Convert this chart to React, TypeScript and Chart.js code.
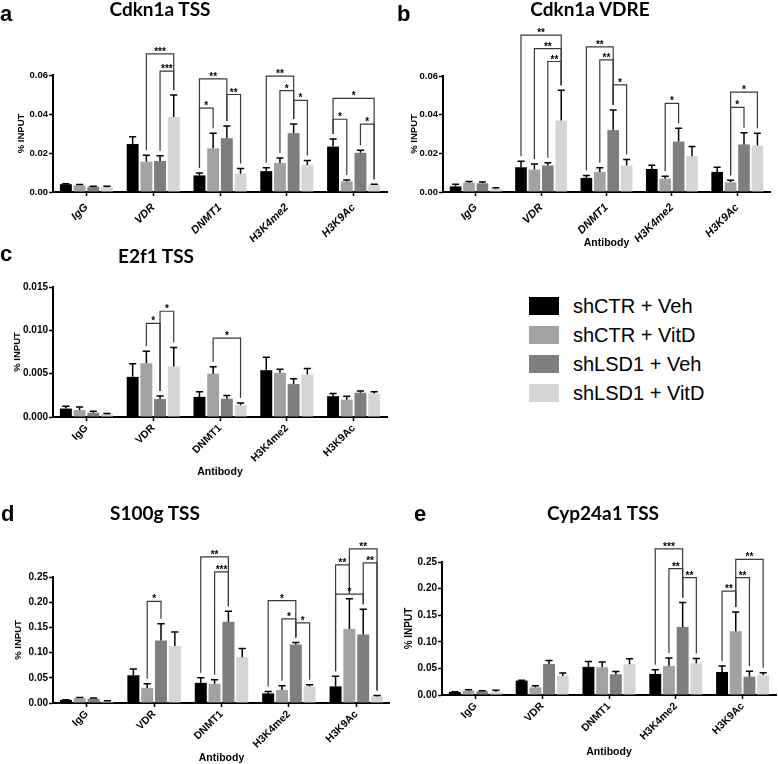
import React, { useEffect, useRef } from "react";
import { Chart, registerables } from "chart.js";

Chart.register(...registerables);

// ---------- shared categories / series ----------
const categories = ["IgG", "VDR", "DNMT1", "H3K4me2", "H3K9Ac"];
const groups = ["shCTR + Veh", "shCTR + VitD", "shLSD1 + Veh", "shLSD1 + VitD"];
const groupColors = ["#000000", "#a2a2a2", "#7e7e7e", "#d5d5d5"];
const xAxisTitle = "Antibody";
const yAxisTitle = "% INPUT";

// ---------- a: Cdkn1a TSS ----------
const cdkn1aTssMeans = [
  [0.004, 0.0246, 0.0085, 0.0107, 0.0233],
  [0.0034, 0.0156, 0.0224, 0.0149, 0.0054],
  [0.0027, 0.0159, 0.0276, 0.0302, 0.0201],
  [0.0025, 0.0385, 0.0094, 0.0139, 0.0037],
];
const cdkn1aTssErrors = [
  [0.0002, 0.0037, 0.0013, 0.0018, 0.0039],
  [0.0005, 0.0032, 0.0077, 0.0025, 0.0007],
  [0.0002, 0.0027, 0.0062, 0.0047, 0.0013],
  [0.0004, 0.0112, 0.0027, 0.0022, 0.0003],
];
// [category, series from, series to, height, label]
const cdkn1aTssSig: [number, number, number, number, string][] = [
  [1, 1, 3, 0.0708, "***"],
  [1, 2, 3, 0.062, "***"],
  [2, 0, 2, 0.058, "**"],
  [2, 0, 1, 0.043, "*"],
  [2, 2, 3, 0.05, "**"],
  [3, 0, 2, 0.0594, "**"],
  [3, 1, 2, 0.052, "*"],
  [3, 2, 3, 0.047, "*"],
  [4, 0, 3, 0.048, "*"],
  [4, 0, 1, 0.0373, "*"],
  [4, 2, 3, 0.0348, "*"],
];
const cdkn1aTssTicks = [0, 0.02, 0.04, 0.06];

// ---------- b: Cdkn1a VDRE ----------
const cdkn1aVdreMeans = [
  [0.0029, 0.0128, 0.0073, 0.0119, 0.0104],
  [0.0048, 0.0116, 0.0104, 0.0069, 0.005],
  [0.0045, 0.0137, 0.032, 0.0261, 0.0246],
  [0.0017, 0.037, 0.0137, 0.0185, 0.024],
];
const cdkn1aVdreErrors = [
  [0.0011, 0.0031, 0.0012, 0.0019, 0.0024],
  [0.0006, 0.0029, 0.0021, 0.0012, 0.0011],
  [0.0007, 0.0014, 0.0104, 0.0069, 0.006],
  [0.0005, 0.0156, 0.0031, 0.005, 0.0064],
];
const cdkn1aVdreSig: [number, number, number, number, string][] = [
  [1, 0, 3, 0.0811, "**"],
  [1, 1, 3, 0.0742, "**"],
  [1, 2, 3, 0.0675, "**"],
  [2, 0, 2, 0.0751, "**"],
  [2, 1, 2, 0.0683, "**"],
  [2, 2, 3, 0.0554, "*"],
  [3, 1, 2, 0.0458, "*"],
  [4, 1, 3, 0.0517, "*"],
  [4, 1, 2, 0.0438, "*"],
];
const cdkn1aVdreTicks = [0, 0.02, 0.04, 0.06];

// ---------- c: E2f1 TSS ----------
const e2f1TssMeans = [
  [0.00097, 0.00463, 0.00232, 0.0054, 0.0024],
  [0.00081, 0.0062, 0.005, 0.0051, 0.002],
  [0.0005, 0.00208, 0.00212, 0.0038, 0.0028],
  [0.00035, 0.00583, 0.00135, 0.0049, 0.0027],
];
const e2f1TssErrors = [
  [0.00027, 0.0015, 0.0006, 0.0015, 0.0003],
  [0.00035, 0.0014, 0.0008, 0.0004, 0.0004],
  [0.00016, 0.00035, 0.00035, 0.0006, 0.0002],
  [0.00005, 0.0022, 0.00027, 0.0007, 0.0002],
];
const e2f1TssSig: [number, number, number, number, string][] = [
  [1, 1, 2, 0.0108, "*"],
  [1, 2, 3, 0.0122, "*"],
  [2, 1, 3, 0.0091, "*"],
];
const e2f1TssTicks = [0, 0.005, 0.01, 0.015];

// ---------- d: S100g TSS ----------
const s100gTssMeans = [
  [0.006, 0.055, 0.04, 0.019, 0.033],
  [0.0093, 0.03, 0.038, 0.026, 0.147],
  [0.0086, 0.124, 0.161, 0.116, 0.136],
  [0.0033, 0.113, 0.091, 0.033, 0.013],
];
const s100gTssErrors = [
  [0.0006, 0.0125, 0.01, 0.004, 0.02],
  [0.0017, 0.008, 0.008, 0.008, 0.06],
  [0.0013, 0.033, 0.021, 0.004, 0.05],
  [0.0013, 0.028, 0.017, 0.003, 0.002],
];
const s100gTssSig: [number, number, number, number, string][] = [
  [1, 1, 2, 0.2017, "*"],
  [2, 0, 2, 0.29, "**"],
  [2, 1, 2, 0.26, "***"],
  [3, 0, 2, 0.203, "*"],
  [3, 1, 2, 0.167, "*"],
  [3, 2, 3, 0.159, "*"],
  [4, 0, 1, 0.274, "**"],
  [4, 1, 3, 0.306, "**"],
  [4, 0, 2, 0.216, "*"],
  [4, 2, 3, 0.278, "**"],
];
const s100gTssTicks = [0, 0.05, 0.1, 0.15, 0.2, 0.25];

// ---------- e: Cyp24a1 TSS ----------
const cyp24a1TssMeans = [
  [0.0057, 0.027, 0.0528, 0.0396, 0.0433],
  [0.0082, 0.0144, 0.052, 0.0546, 0.12],
  [0.0069, 0.0584, 0.039, 0.128, 0.0345],
  [0.0063, 0.0358, 0.058, 0.0597, 0.0377],
];
const cyp24a1TssErrors = [
  [0.0006, 0.0006, 0.01, 0.008, 0.011],
  [0.0018, 0.0032, 0.01, 0.015, 0.036],
  [0.0013, 0.0063, 0.005, 0.046, 0.01],
  [0.0025, 0.0057, 0.01, 0.009, 0.004],
];
const cyp24a1TssSig: [number, number, number, number, string][] = [
  [3, 0, 2, 0.2745, "***"],
  [3, 1, 2, 0.2374, "**"],
  [3, 2, 3, 0.2205, "**"],
  [4, 0, 1, 0.1954, "**"],
  [4, 1, 3, 0.255, "**"],
  [4, 1, 2, 0.2205, "**"],
];
const cyp24a1TssTicks = [0, 0.05, 0.1, 0.15, 0.2, 0.25];

const FONT = "'Liberation Sans', Arial, sans-serif";

type PanelSpec = {
  means: number[][];
  errors: number[][];
  sig: [number, number, number, number, string][];
  ticks: number[];
  decimals: number;
  left: number;
  top: number;
  width: number;
  height: number;
  pad: { left: number; top: number; right: number; bottom: number };
  yWidth: number;
  xHeight: number;
  italic: boolean;
  xTitle: boolean;
  xTitleOffset: number;
  labelPad: number;
  tickSize: number;
  yTitleSize: number;
  labelSize: number;
};

const panels: PanelSpec[] = [
  {
    means: cdkn1aTssMeans, errors: cdkn1aTssErrors, sig: cdkn1aTssSig, ticks: cdkn1aTssTicks, decimals: 2,
    left: 0, top: 0, width: 390, height: 242,
    pad: { left: 16, top: 75, right: 3, bottom: 0 }, yWidth: 37, xHeight: 50,
    italic: true, xTitle: false, xTitleOffset: 0, labelPad: 5, tickSize: 9.5, yTitleSize: 9.5, labelSize: 11,
  },
  {
    means: cdkn1aVdreMeans, errors: cdkn1aVdreErrors, sig: cdkn1aVdreSig, ticks: cdkn1aVdreTicks, decimals: 2,
    left: 390, top: 0, width: 388, height: 252,
    pad: { left: 19, top: 76, right: 8, bottom: 10 }, yWidth: 34, xHeight: 50,
    italic: true, xTitle: true, xTitleOffset: 51, labelPad: 5, tickSize: 9.5, yTitleSize: 9.5, labelSize: 11,
  },
  {
    means: e2f1TssMeans, errors: e2f1TssErrors, sig: e2f1TssSig, ticks: e2f1TssTicks, decimals: 3,
    left: 0, top: 242, width: 390, height: 240,
    pad: { left: 12, top: 45, right: 3, bottom: 5 }, yWidth: 41, xHeight: 60,
    italic: false, xTitle: true, xTitleOffset: 55, labelPad: 1, tickSize: 10, yTitleSize: 9.5, labelSize: 10.5,
  },
  {
    means: s100gTssMeans, errors: s100gTssErrors, sig: s100gTssSig, ticks: s100gTssTicks, decimals: 2,
    left: 0, top: 482, width: 390, height: 282,
    pad: { left: 13, top: 95, right: 0, bottom: 1 }, yWidth: 40, xHeight: 60,
    italic: false, xTitle: true, xTitleOffset: 55, labelPad: 1, tickSize: 10, yTitleSize: 9.5, labelSize: 10.5,
  },
  {
    means: cyp24a1TssMeans, errors: cyp24a1TssErrors, sig: cyp24a1TssSig, ticks: cyp24a1TssTicks, decimals: 2,
    left: 390, top: 482, width: 388, height: 282,
    pad: { left: 13, top: 80, right: 2, bottom: 9 }, yWidth: 39, xHeight: 60,
    italic: false, xTitle: true, xTitleOffset: 57, labelPad: 1, tickSize: 10, yTitleSize: 10, labelSize: 10.5,
  },
];

function BarPanel({ spec }: { spec: PanelSpec }) {
  const ref = useRef<HTMLCanvasElement>(null);
  useEffect(() => {
    const s = spec;
    const errorBars = {
      id: "errorBars",
      afterDatasetsDraw(chart: any) {
        const ctx = chart.ctx;
        const y = chart.scales.y;
        ctx.save();
        ctx.strokeStyle = "#000";
        ctx.lineWidth = 1.5;
        chart.data.datasets.forEach((ds: any, i: number) => {
          const meta = chart.getDatasetMeta(i);
          meta.data.forEach((bar: any, j: number) => {
            const v = ds.data[j];
            const e = s.errors[i][j];
            const yTop = y.getPixelForValue(v + e);
            const yBase = y.getPixelForValue(v);
            const half = bar.width * 0.3;
            ctx.beginPath();
            ctx.moveTo(bar.x, yBase);
            ctx.lineTo(bar.x, yTop);
            ctx.moveTo(bar.x - half, yTop);
            ctx.lineTo(bar.x + half, yTop);
            ctx.stroke();
          });
        });
        ctx.restore();
      },
    };
    const brackets = {
      id: "brackets",
      afterDraw(chart: any) {
        const ctx = chart.ctx;
        const y = chart.scales.y;
        ctx.save();
        ctx.strokeStyle = "#3a3a3a";
        ctx.lineWidth = 1.2;
        ctx.fillStyle = "#000";
        ctx.font = `bold 10px ${FONT}`;
        ctx.textAlign = "center";
        ctx.textBaseline = "alphabetic";
        s.sig.forEach(([c, a, b, level, label]) => {
          const b1 = chart.getDatasetMeta(a).data[c];
          const b2 = chart.getDatasetMeta(b).data[c];
          const yl = y.getPixelForValue(level);
          const l1 = y.getPixelForValue(s.means[a][c] + s.errors[a][c]) - 5;
          const l2 = y.getPixelForValue(s.means[b][c] + s.errors[b][c]) - 5;
          ctx.beginPath();
          ctx.moveTo(b1.x, l1);
          ctx.lineTo(b1.x, yl);
          ctx.lineTo(b2.x, yl);
          ctx.lineTo(b2.x, l2);
          ctx.stroke();
          ctx.fillText(label, (b1.x + b2.x) / 2, yl + 1);
        });
        ctx.restore();
      },
    };
    const xTitle = {
      id: "xTitle",
      afterDraw(chart: any) {
        if (!s.xTitle) return;
        const ctx = chart.ctx;
        const { left, right, bottom } = chart.chartArea;
        ctx.save();
        ctx.fillStyle = "#000";
        ctx.font = `bold 10.5px ${FONT}`;
        ctx.textAlign = "center";
        ctx.textBaseline = "middle";
        ctx.fillText(xAxisTitle, (left + right) / 2, bottom + s.xTitleOffset);
        ctx.restore();
      },
    };
    const tickFont = { family: FONT, weight: "bold" as const, size: s.tickSize };
    const chart = new Chart(ref.current as HTMLCanvasElement, {
      type: "bar",
      data: {
        labels: categories,
        datasets: groups.map((name, i) => ({
          label: name,
          data: s.means[i],
          backgroundColor: groupColors[i],
          borderWidth: 0,
          categoryPercentage: 0.82,
          barPercentage: 0.87,
        })),
      },
      options: {
        animation: false,
        responsive: false,
        maintainAspectRatio: false,
        devicePixelRatio: 1,
        layout: { padding: s.pad },
        plugins: {
          legend: { display: false },
          tooltip: { enabled: false },
          title: { display: false },
        },
        scales: {
          x: {
            offset: true,
            grid: {
              display: true,
              drawOnChartArea: false,
              drawTicks: true,
              tickLength: 4,
              tickWidth: 1.5,
              tickColor: "#000",
              offset: false,
            },
            border: { display: true, color: "#000", width: 2 },
            ticks: {
              autoSkip: false,
              minRotation: 45,
              maxRotation: 45,
              color: "#000",
              padding: s.labelPad,
              font: {
                family: FONT,
                weight: "bold",
                size: s.labelSize,
                style: s.italic ? "italic" : "normal",
              },
            },
            title: { display: false },
            afterFit: (scale: any) => {
              scale.height = s.xHeight;
            },
          },
          y: {
            min: 0,
            max: s.ticks[s.ticks.length - 1],
            grid: {
              display: true,
              drawOnChartArea: false,
              drawTicks: true,
              tickLength: 4,
              tickWidth: 1.5,
              tickColor: "#000",
            },
            border: { display: true, color: "#000", width: 2 },
            ticks: {
              color: "#000",
              padding: 1,
              font: tickFont,
              callback: (v: any) => Number(v).toFixed(s.decimals),
            },
            afterBuildTicks: (scale: any) => {
              scale.ticks = s.ticks.map((v) => ({ value: v }));
            },
            title: {
              display: true,
              text: yAxisTitle,
              color: "#000",
              padding: 0,
              font: { family: FONT, weight: "bold", size: s.yTitleSize },
            },
            afterFit: (scale: any) => {
              scale.width = s.yWidth;
            },
          },
        },
      } as any,
      plugins: [errorBars, brackets, xTitle],
    });
    return () => chart.destroy();
  }, [spec]);
  return (
    <canvas
      ref={ref}
      width={spec.width}
      height={spec.height}
      style={{
        position: "absolute",
        left: spec.left,
        top: spec.top,
        width: spec.width,
        height: spec.height,
      }}
    />
  );
}

const panelTitles = [
  { text: "Cdkn1a TSS", cx: 160, base: 16 },
  { text: "Cdkn1a VDRE", cx: 590, base: 16 },
  { text: "E2f1 TSS", cx: 156, base: 263 },
  { text: "S100g TSS", cx: 155, base: 520 },
  { text: "Cyp24a1 TSS", cx: 603, base: 520 },
];
const panelLetters = [
  { text: "a", x: 0, base: 22 },
  { text: "b", x: 397, base: 22 },
  { text: "c", x: 0, base: 262 },
  { text: "d", x: 1, base: 522 },
  { text: "e", x: 414, base: 522 },
];

export default function App() {
  useEffect(() => {
    document.body.style.margin = "0";
  }, []);
  const titleSize = 19;
  const letterSize = 22;
  return (
    <div
      style={{
        position: "absolute",
        left: 0,
        top: 0,
        width: 778,
        height: 764,
        overflow: "hidden",
        background: "#fff",
      }}
    >
      {panels.map((p, i) => (
        <BarPanel key={i} spec={p} />
      ))}
      {panelTitles.map((t, i) => (
        <div
          key={"t" + i}
          style={{
            position: "absolute",
            left: t.cx - 120,
            width: 240,
            top: t.base - titleSize * 0.89,
            textAlign: "center",
            fontFamily: "Lato, sans-serif",
            fontWeight: 700,
            fontSize: titleSize,
            lineHeight: `${titleSize}px`,
            color: "#000",
            whiteSpace: "nowrap",
          }}
        >
          {t.text}
        </div>
      ))}
      {panelLetters.map((t, i) => (
        <div
          key={"l" + i}
          style={{
            position: "absolute",
            left: t.x,
            top: t.base - letterSize * 0.846,
            fontFamily: FONT,
            fontWeight: 700,
            fontSize: letterSize,
            lineHeight: `${letterSize}px`,
            color: "#000",
          }}
        >
          {t.text}
        </div>
      ))}
      <div style={{ position: "absolute", left: 529, top: 291.5 }}>
        {groups.map((g, i) => (
          <div
            key={g}
            style={{ display: "flex", alignItems: "center", height: 29 }}
          >
            <div
              style={{ width: 30, height: 18, background: groupColors[i] }}
            />
            <div
              style={{
                marginLeft: 14,
                fontFamily: FONT,
                fontSize: 20,
                color: "#000",
                whiteSpace: "nowrap",
              }}
            >
              {g}
            </div>
          </div>
        ))}
      </div>
    </div>
  );
}
